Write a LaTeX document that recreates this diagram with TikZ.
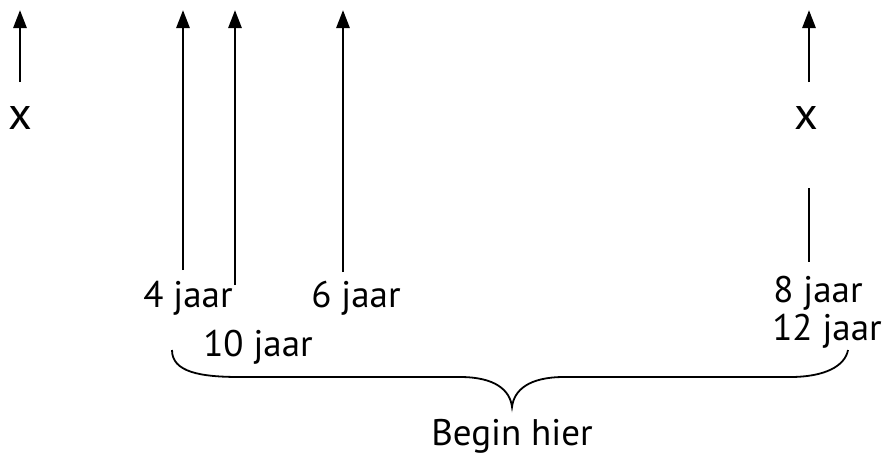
\documentclass[tikz,border=0pt]{standalone}
\usepackage{fontspec}
\setmainfont{PT Sans}
\usetikzlibrary{arrows.meta}
\begin{document}
\begin{tikzpicture}[x=1pt,y=-1pt,
  lbl/.style={font=\fontsize{37}{41}\selectfont, inner sep=0pt, anchor=center},
  xlbl/.style={font=\fontsize{46}{50}\selectfont, inner sep=0pt, anchor=center},
  up/.style={line width=2.8pt, -{Triangle[width=13pt,length=18pt]}},
  bar/.style={line width=2.8pt}]
\useasboundingbox (0,0) rectangle (883,459);
% arrow anchors
\coordinate (b1) at (20,82);  \coordinate (t1) at (20,10);
\coordinate (b2) at (183,270); \coordinate (t2) at (183,10);
\coordinate (b3) at (235,285); \coordinate (t3) at (235,10);
\coordinate (b4) at (343,272); \coordinate (t4) at (343,10);
\coordinate (b5) at (809,82); \coordinate (t5) at (809,10);
\coordinate (s1) at (809,188); \coordinate (s2) at (809,262);
\draw[up] (b1) -- (t1);
\draw[up] (b2) -- (t2);
\draw[up] (b3) -- (t3);
\draw[up] (b4) -- (t4);
\draw[up] (b5) -- (t5);
\draw[bar] (s1) -- (s2);
\node[xlbl] (x1) at (20,118) {x};
\node[xlbl] (x2) at (806,118) {x};
\node[lbl] (l4) at (188,298) {4 jaar};
\node[lbl] (l6) at (356,298) {6 jaar};
\node[lbl] (l10) at (258,347) {10 jaar};
\node[lbl] (l8) at (818,293) {8 jaar};
\node[lbl] (l12) at (827,331) {12 jaar};
\node[lbl] (bh) at (512,436) {Begin hier};
% brace
\coordinate (bl) at (172,350);
\coordinate (br) at (848,350);
\coordinate (bp) at (512,407);
\draw[line width=1.8pt] (bl) .. controls (172,372) and (200,377) .. (240,377)
  -- (460,377) .. controls (495,377) and (510,390) .. (bp)
  .. controls (514,390) and (529,377) .. (564,377)
  -- (790,377) .. controls (825,377) and (845,366) .. (br);
\end{tikzpicture}
\end{document}
